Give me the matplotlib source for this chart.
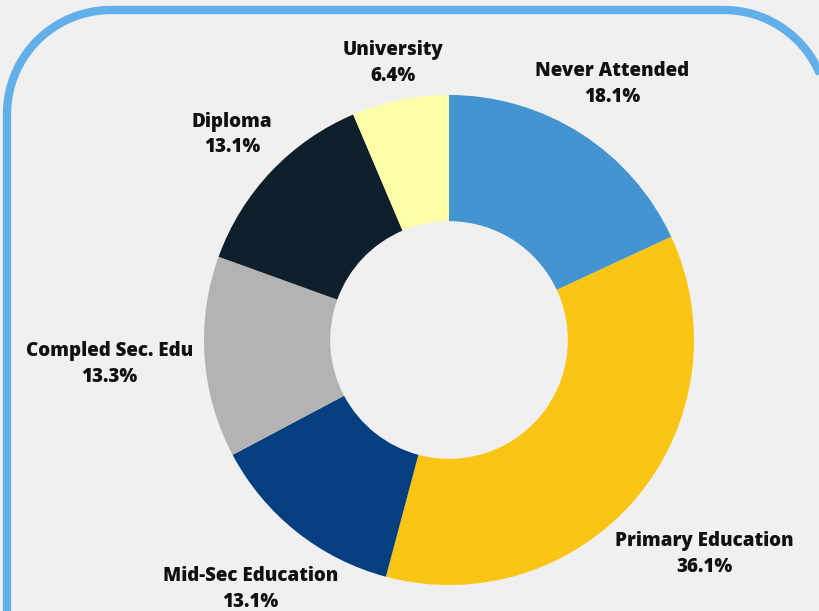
import numpy as np
import matplotlib.pyplot as plt

plt.rcParams['font.family'] = ['Open Sans', 'DejaVu Sans']

# Education level shares (%)
categories = ['Never Attended', 'Primary Education', 'Mid-Sec Education',
              'Compled Sec. Edu', 'Diploma', 'University']
shares = [18.1, 36.1, 13.1, 13.3, 13.1, 6.4]
colors = ['#4394d0', '#fac515', '#053f80', '#b3b3b3', '#0e1e2b', '#fdfea8']
# how far each label sits from the centre, in outer radii
label_dist = [1.24, 1.36, 1.30, 1.39, 1.22, 1.155]

fig = plt.figure(figsize=(8.2, 6.11), dpi=100)
fig.patch.set_facecolor('#f0f0f0')
ax = fig.add_axes([0, 0, 1, 1])

cx, cy, r = 449, 271, 245
wedges, _ = ax.pie(shares, colors=colors, startangle=90, counterclock=False,
                   radius=r, center=(cx, cy),
                   wedgeprops=dict(width=r * 0.515, linewidth=0))

for w, name, val, d in zip(wedges, categories, shares, label_dist):
    mid = np.deg2rad((w.theta1 + w.theta2) / 2)
    x = cx + d * r * np.cos(mid)
    y = cy + d * r * np.sin(mid)
    ax.text(x, y, f'{name}\n{val}%', ha='center', va='center',
            fontsize=13.5, fontweight=800, color='#111111', linespacing=1.38)

# rounded blue frame, running off the bottom and right of the image
left, top, right, rad = 7, 601, 828, 104
t1 = np.linspace(np.pi, np.pi / 2, 40)
t2 = np.linspace(np.pi / 2, 0, 40)
fx = np.concatenate([[left], left + rad + rad * np.cos(t1),
                     right - rad + rad * np.cos(t2), [right]])
fy = np.concatenate([[-50], top - rad + rad * np.sin(t1),
                     top - rad + rad * np.sin(t2), [-50]])
ax.plot(fx, fy, color='#62b0ea', linewidth=6, solid_capstyle='butt',
        solid_joinstyle='round')

ax.set_xlim(0, 820)
ax.set_ylim(0, 611)
ax.set_aspect('equal')
ax.axis('off')

fig.savefig('out.png', dpi=100, facecolor=fig.get_facecolor())
